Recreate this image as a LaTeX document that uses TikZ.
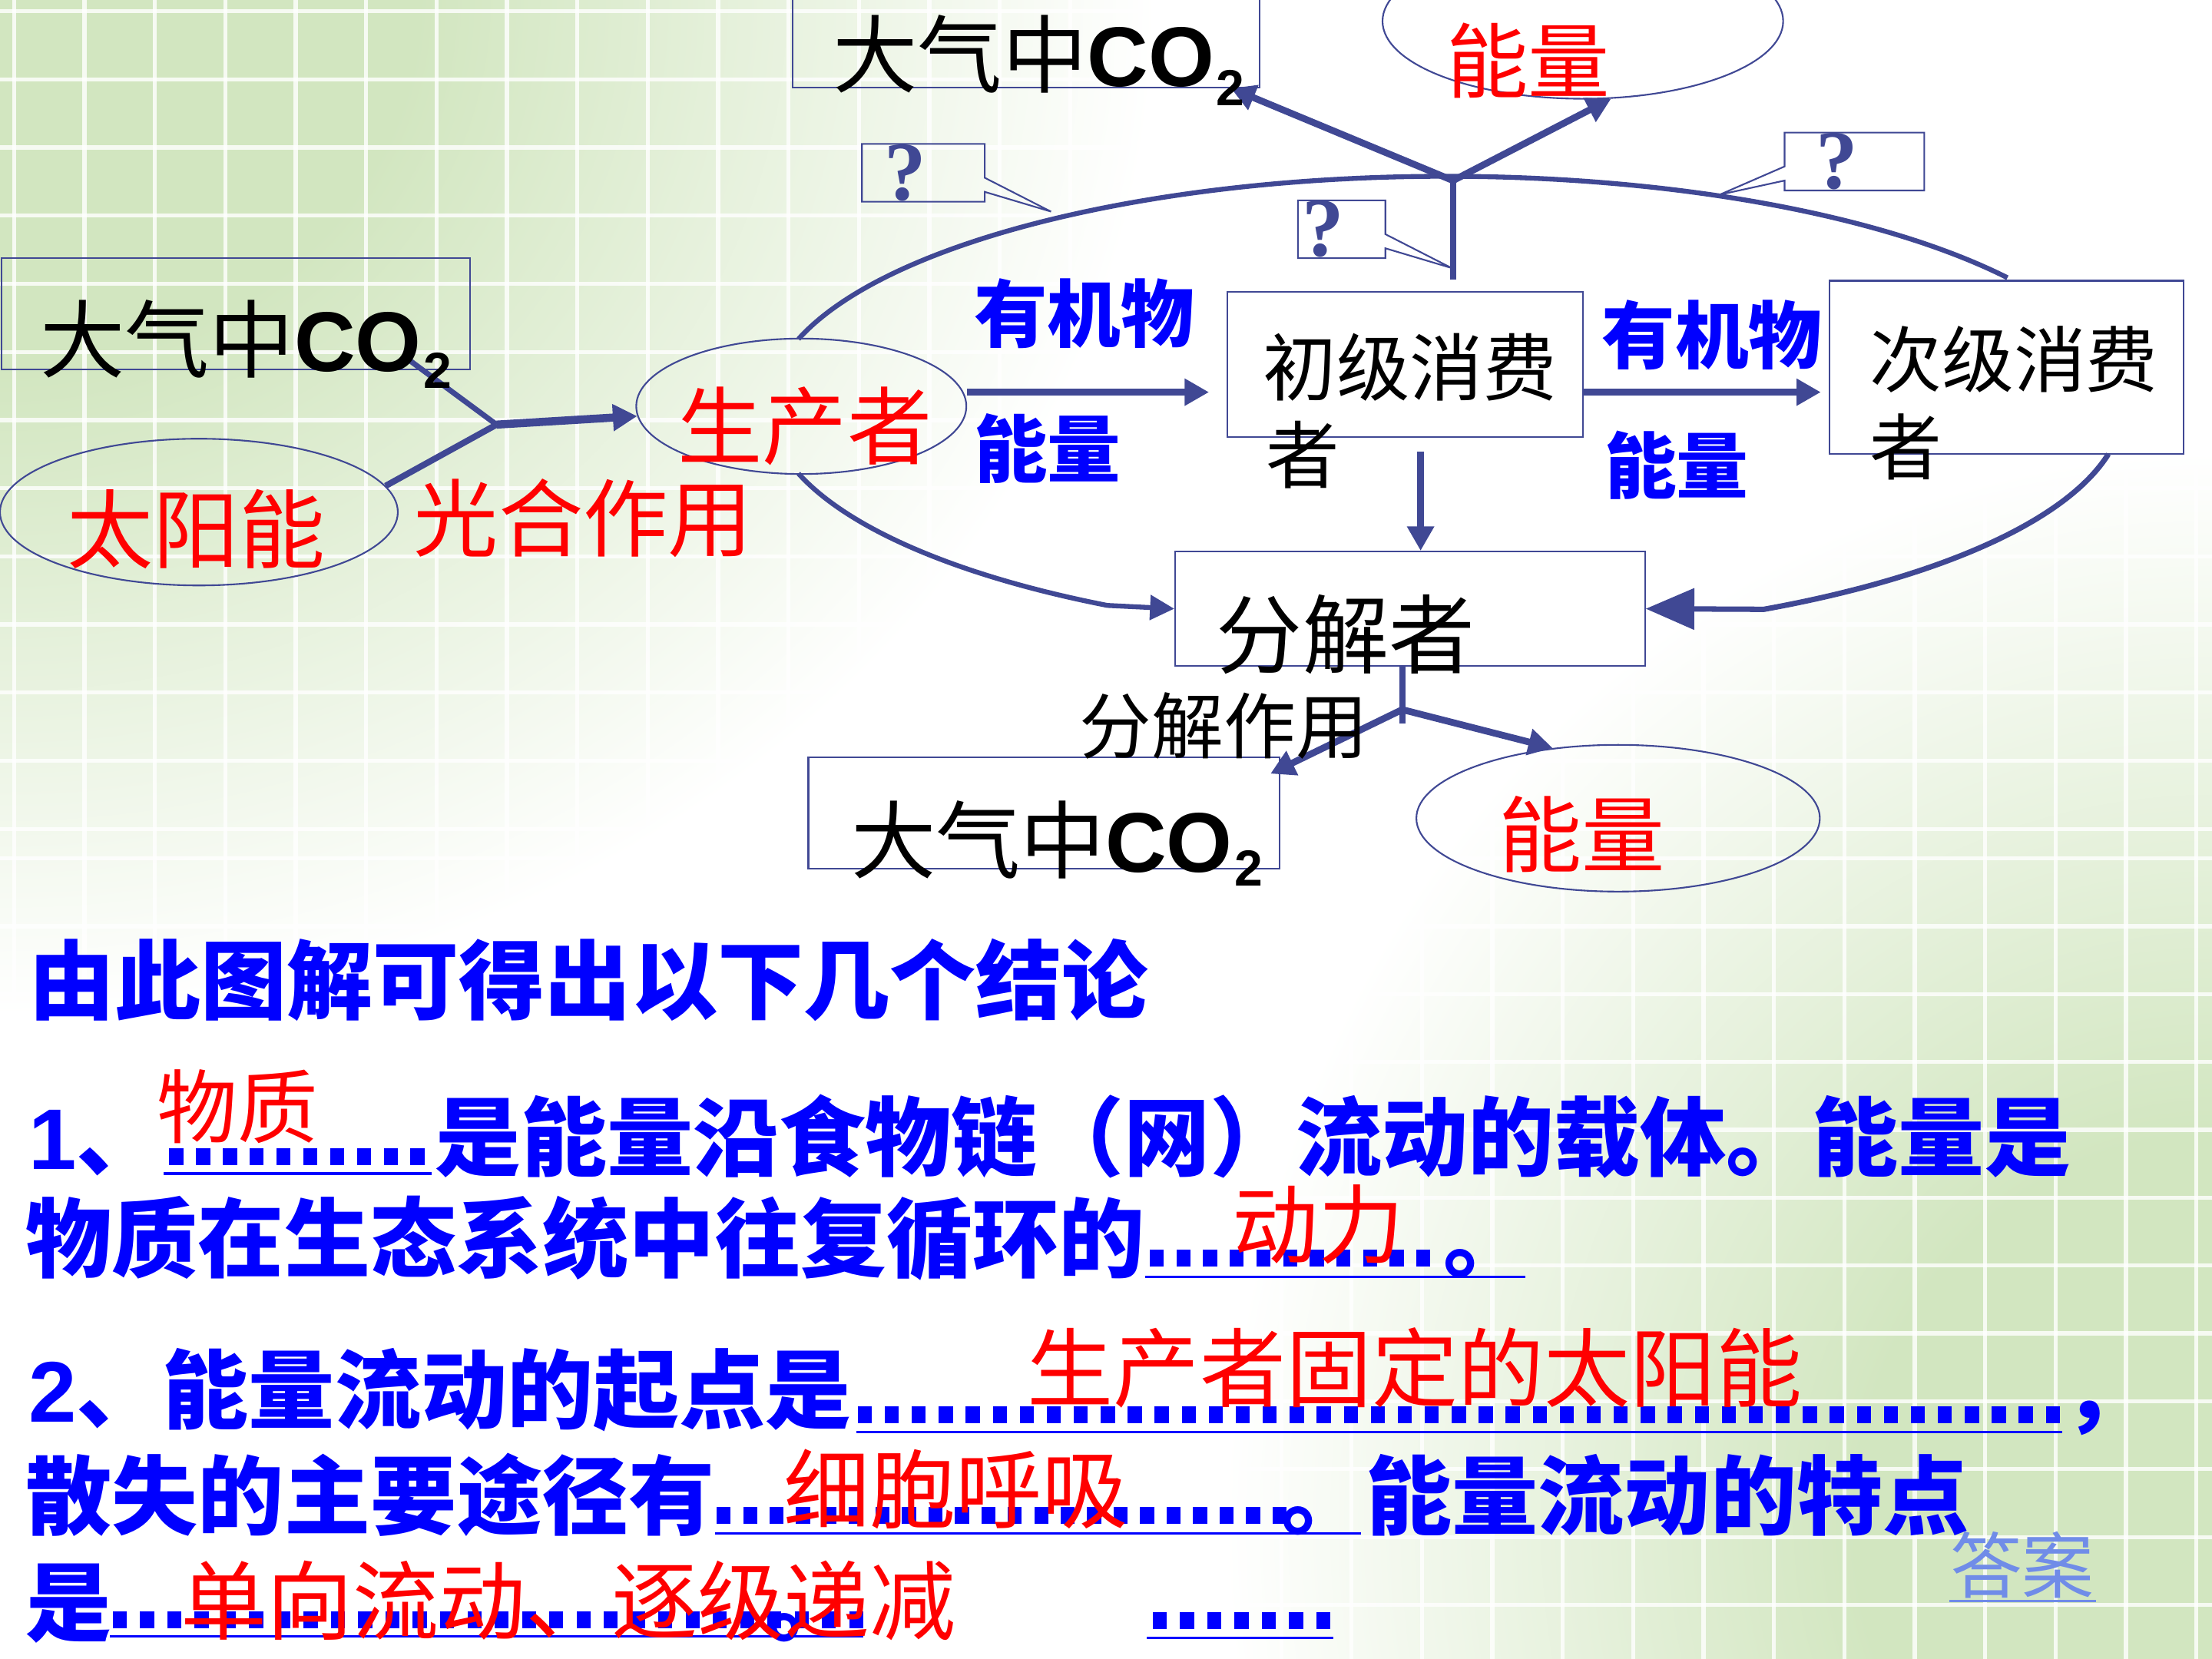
\documentclass[tikz,border=0pt]{standalone}
\usepackage{fontspec}
\usetikzlibrary{shapes.geometric,arrows.meta,calc}
\newfontfamily\cjk{Noto Sans CJK SC}
\newfontfamily\lat{Liberation Sans}
\newfontfamily\ser{Liberation Serif}
\definecolor{ln}{RGB}{64,72,148}
\definecolor{bl}{RGB}{0,0,255}
\definecolor{rd}{RGB}{255,0,0}
\definecolor{ans}{RGB}{112,140,232}
\definecolor{bgg}{RGB}{210,230,192}
\newcommand\fsz[1]{\fontsize{#1pt}{#1pt}\selectfont}
\pgfdeclareradialshading{glow}{\pgfpoint{0bp}{0bp}}{color(0bp)=(bgg); color(9bp)=(bgg); color(25bp)=(white); color(50bp)=(white)}
\begin{document}
\begin{tikzpicture}[x=0.018367cm,y=-0.018367cm,
  txt/.style={inner sep=0pt,anchor=base west},
  bx/.style 2 args={draw=ln,line width=0.6pt,rectangle,inner sep=0pt,minimum width=#1*0.018367cm,minimum height=#2*0.018367cm},
  el/.style 2 args={draw=ln,line width=0.6pt,ellipse,inner sep=0pt,minimum width=#1*0.018367cm,minimum height=#2*0.018367cm},
  con/.style={draw=ln,line width=2.5pt},
  arr/.style={con,-{Triangle[length=9pt,width=9.5pt]}},
  qm/.style={inner sep=0pt,text=ln,font={\ser\bfseries\fsz{31}}},
  dotb/.style={fill=bl},
  uline/.style={draw=bl,line width=1pt},
  grd/.style={draw=white,line width=1.5pt,opacity=0.8}]
\useasboundingbox (0,0) rectangle (1568,1176);
% background
\begin{scope}
\clip (0,0) rectangle (1568,1176);
\fill[white] (0,0) rectangle (1568,1176);
\shade[shading=glow] (0,0) ellipse [x radius=820, y radius=720];
\shade[shading=glow] (1568,1080) ellipse [x radius=700, y radius=760];
\foreach \k in {0,...,31} \draw[grd] ({10+49.9*\k},0) -- ++(0,1176);
\foreach \k in {0,...,12} \draw[grd] (0,{8+48.3*\k}) -- ++(1568,0);
\foreach \k in {-5,...,7} \draw[grd] (0,{849+48.1*\k}) -- ++(1568,0);
\end{scope}

% shapes
\node[bx={331}{72}] (topco2) at (727.5,26) {};
\node[bx={332}{79}] (leftco2) at (167,222.5) {};
\node[bx={334}{79}] (botco2) at (740,576.5) {};
\node[bx={252}{103}] (c1) at (996,258.5) {};
\node[bx={251}{123}] (c2) at (1422.5,260.5) {};
\node[bx={333}{81}] (dec) at (999.5,431.5) {};
\node[el={284}{110}] (topE) at (1122,15) {};
\node[el={282}{104}] (sun) at (141,363) {};
\node[el={234}{96}] (prod) at (568,288) {};
\node[el={286}{104}] (botE) at (1147,580) {};

\coordinate (jl) at (352,301);
\coordinate (jt) at (1030,128);
\coordinate (jb) at (994,503);
\coordinate (jbe) at (994,513);

% big cycle
\draw[con,line width=1.8pt] (1025,288) ++(197:480 and 163) arc[start angle=197,end angle=326,x radius=480,y radius=163];
\draw[con,line width=1.8pt,-{Triangle[length=9pt,width=9pt]}] (1025,288) ++(163:480 and 163) arc[start angle=163,end angle=120,x radius=480,y radius=163] -- (dec.west);
\draw[con,line width=2pt,-{Triangle[length=18pt,width=15pt]}] (1025,288) ++(12:480 and 163) arc[start angle=12,end angle=62,x radius=480,y radius=163] -- (dec.east);

% connectors
\draw[con,line width=2pt] ([shift={(123.5,-7)}]leftco2.south) -- (jl);
\draw[con,line width=2.3pt] (sun.8) -- (jl);
\draw[arr,line width=3pt] (jl) -- (prod);
\draw[arr,shorten >=6.5pt] (prod.east |- 0,278) -- (c1.west |- 0,278);
\draw[arr,shorten >=3pt] (c1.east |- 0,278) -- (c2.west |- 0,278);
\draw[arr,shorten <=5pt] (c1.south -| 1007,0) -- (dec.north -| 1007,0);
\draw[con,line width=2.2pt,shorten <=4.2pt] (c1.north -| 1030,0) -- (jt);
\draw[arr] (jt) -- ([shift={(-21,0)}]topco2.south east);
\draw[arr] (jt) -- (topE.-70);
\draw[con,line width=2.2pt] (dec.south -| jbe) -- (jbe);
\draw[arr] (jb) -- ([shift={(-7,12)}]botco2.north east);
\draw[arr] (jb) -- (botE.133);

% callouts
\draw[ln,line width=0.6pt] (611,102) -- (698,102) -- (698,126) -- (745,150) -- (698,136) -- (698,143) -- (611,143) -- cycle;
\draw[ln,line width=0.6pt] (920,142) -- (982,142) -- (982,166) -- (1029,190) -- (982,176) -- (982,183) -- (920,183) -- cycle;
\draw[ln,line width=0.6pt] (1265,94) -- (1364,94) -- (1364,135) -- (1265,135) -- (1265,128) -- (1219,138) -- (1265,118) -- cycle;
\node[qm] (q1) at (642,122.5) {?};
\node[qm] (q2) at (938,162.5) {?};
\node[qm] (q3) at (1302,114.5) {?};

% diagram texts
\node[txt,font={\cjk\fsz{31.4}}] (t1) at (590,61) {大气中{\lat\bfseries CO}};
\node[txt,font={\lat\bfseries\fsz{18.8}}] (t1s) at (862,75) {2};
\node[txt,font={\cjk\fsz{31.4}}] (t2) at (28,263) {大气中{\lat\bfseries CO}};
\node[txt,font={\lat\bfseries\fsz{18.8}}] (t2s) at (300,275) {2};
\node[txt,font={\cjk\fsz{31.4}}] (t3) at (603,618) {大气中{\lat\bfseries CO}};
\node[txt,font={\lat\bfseries\fsz{18.8}}] (t3s) at (875,628) {2};
\node[txt,text=rd,font={\cjk\fsz{30.3}}] (t4) at (1025,65) {能量};
\node[txt,text=rd,font={\cjk\fsz{31.9}}] (t5) at (47,398) {太阳能};
\node[txt,text=rd,font={\cjk\fsz{31.4}}] (t6) at (293,390) {光合作用};
\node[txt,text=rd,font={\cjk\fsz{31.4}}] (t7) at (480,325) {生产者};
\node[txt,text=bl,font={\cjk\bfseries\fsz{27.2}}] (t8) at (690,242) {有机物};
\node[txt,text=bl,font={\cjk\bfseries\fsz{27.2}}] (t9) at (690,338) {能量};
\node[txt,text=bl,font={\cjk\bfseries\fsz{27.2}}] (t10) at (1135,257) {有机物};
\node[txt,text=bl,font={\cjk\bfseries\fsz{26.7}}] (t11) at (1137,349) {能量};
\node[txt,font={\cjk\fsz{27.2}}] (t12) at (895,280) {初级消费};
\node[txt,font={\cjk\fsz{27.2}}] (t13) at (897,342) {者};
\node[txt,font={\cjk\fsz{26.7}}] (t14) at (1325,274) {次级消费};
\node[txt,font={\cjk\fsz{26.7}}] (t15) at (1325,336) {者};
\node[txt,font={\cjk\fsz{31.9}}] (t16) at (862,473) {分解者};
\node[txt,font={\cjk\fsz{26.7}}] (t17) at (765,534) {分解作用};
\node[txt,text=rd,font={\cjk\fsz{30.8}}] (t18) at (1062,614) {能量};

% conclusions: dots and underlines
\foreach \i in {0,...,9} \fill[dotb] ({120+19.0*\i},814) rectangle ++(10,12);
\draw[uline] (116,832) -- (306,832);
\foreach \i in {0,...,10} \fill[dotb] ({815+18.9*\i},886) rectangle ++(10,12);
\draw[uline] (812,905) -- (1081,905);
\foreach \i in {0,...,44} \fill[dotb] ({608+19.14*\i},997) rectangle ++(10,12);
\draw[uline] (607,1015) -- (1462,1015);
\foreach \i in {0,...,21} \fill[dotb] ({508+18.76*\i},1068) rectangle ++(10,12);
\draw[uline] (507,1087) -- (965,1087);
\foreach \i in {0,...,27} \fill[dotb] ({80+19.33*\i},1142) rectangle ++(10,12);
\draw[uline] (78,1160) -- (612,1160);
\foreach \i in {0,...,6} \fill[dotb] ({817+19.33*\i},1143) rectangle ++(10,12);
\draw[uline] (813,1161) -- (945,1161);

\node[txt,text=bl,font={\cjk\bfseries\fsz{31.9}}] (s1) at (20,718) {由此图解可得出以下几个结论};
\node[txt,text=bl,font={\cjk\bfseries\fsz{31.9}}] (s2) at (20,829) {{\lat\bfseries 1}、};
\node[txt,text=bl,font={\cjk\bfseries\fsz{31.9}}] (s3) at (308,829) {是能量沿食物链（网）流动的载体。能量是};
\node[txt,text=bl,font={\cjk\bfseries\fsz{31.9}}] (s4) at (18,901) {物质在生态系统中往复循环的};
\node[txt,text=bl,font={\cjk\bfseries\fsz{31.9}}] (s4d) at (1023,901) {。};
\node[txt,text=bl,font={\cjk\bfseries\fsz{31.9}}] (s5) at (20,1008) {{\lat\bfseries 2}、能量流动的起点是};
\node[txt,text=bl,font={\cjk\bfseries\fsz{31.9}}] (s5c) at (1462,1008) {，};
\node[txt,text=bl,font={\cjk\bfseries\fsz{31.9}}] (s6) at (18,1083) {散失的主要途径有};
\node[txt,text=bl,font={\cjk\bfseries\fsz{31.9}}] (s6d) at (908,1083) {。};
\node[txt,text=bl,font={\cjk\bfseries\fsz{31.9}}] (s6b) at (968,1083) {能量流动的特点};
\node[txt,text=bl,font={\cjk\bfseries\fsz{31.9}}] (s7) at (18,1159) {是};
\node[txt,text=bl,font={\cjk\bfseries\fsz{31.9}}] (s7d) at (544,1159) {。};
\node[txt,text=ans,font={\cjk\fsz{26.7}}] (ans) at (1382,1129) {答案};
\draw[ans,line width=0.8pt] (ans.base west) ++(0,6) -- ++(104,0);

\node[txt,text=rd,font={\cjk\fsz{29.8}}] (s2r) at (111,806) {物质};
\node[txt,text=rd,font={\cjk\fsz{31.9}}] (s4r) at (873,891) {动力};
\node[txt,text=rd,font={\cjk\fsz{31.9}}] (s5r) at (728,993) {生产者固定的太阳能};
\node[txt,text=rd,font={\cjk\fsz{31.9}}] (s6r) at (555,1079) {细胞呼吸};
\node[txt,text=rd,font={\cjk\fsz{31.9}}] (s7r) at (128,1158) {单向流动、逐级递减};
\end{tikzpicture}
\end{document}
